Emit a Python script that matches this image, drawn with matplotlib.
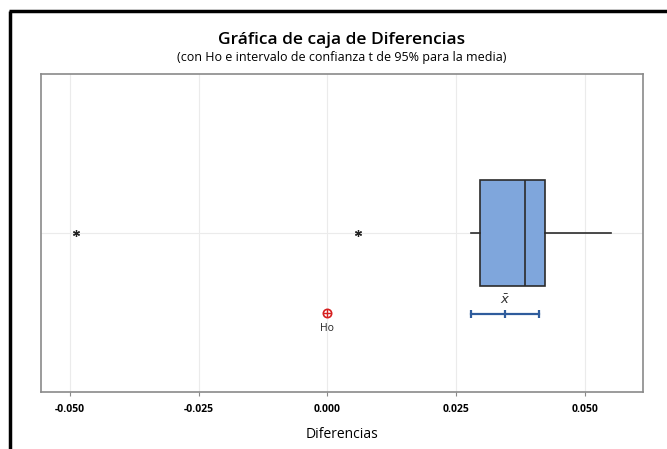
import matplotlib
matplotlib.use("Agg")
import matplotlib.pyplot as plt
from matplotlib.lines import Line2D

# valores
caja = {"whislo": 0.0279, "q1": 0.0297, "med": 0.0383, "q3": 0.0422, "whishi": 0.0550}
atipicos = [-0.0489, 0.0060]
media = 0.0346
ic_media = [0.0279, 0.0412]
ho = 0.0
ticks = [-0.050, -0.025, 0.000, 0.025, 0.050]
tick_labels = ["-0.050", "-0.025", "0.000", "0.025", "0.050"]

plt.rcParams['font.family'] = ['Open Sans', 'DejaVu Sans']

fig = plt.figure(figsize=(6.67, 4.49), dpi=100)
ax = fig.add_axes([0.0615, 0.127, 0.9025, 0.708])

stats = [dict(caja, fliers=atipicos, label="")]
ax.bxp(stats, positions=[0.5], widths=0.335, orientation="horizontal",
       patch_artist=True, showcaps=False,
       boxprops=dict(facecolor="#7FA6DC", edgecolor="#2b2b2b", linewidth=1.2),
       medianprops=dict(color="#2b2b2b", linewidth=1.2),
       whiskerprops=dict(color="#2b2b2b", linewidth=1.2),
       flierprops=dict(marker=(6, 2, 0), markersize=5, markeredgecolor="#222222",
                       markeredgewidth=0.9, linestyle="none"))

# intervalo de confianza de la media
y_ic = 0.244
ax.plot(ic_media, [y_ic, y_ic], color="#2F5C9C", linewidth=1.6)
ax.plot(ic_media + [media], [y_ic] * 3, linestyle="none", marker="|",
        markersize=6, markeredgewidth=1.6, color="#2F5C9C")
ax.text(media, y_ic + 0.024, r"$\bar{x}$", ha="center", va="bottom",
        fontsize=9.5, color="#333333")

# Ho
y_ho = 0.248
ax.plot([ho], [y_ho], marker="o", markersize=6, markerfacecolor="none",
        markeredgecolor="#D62020", markeredgewidth=1.2, linestyle="none")
ax.plot([ho], [y_ho], marker="+", markersize=6, markeredgecolor="#D62020",
        markeredgewidth=1.0, linestyle="none")
ax.text(ho, y_ho - 0.03, "Ho", ha="center", va="top", fontsize=7.5, color="#222222")

ax.set_xlim(-0.0556, 0.0613)
ax.set_ylim(0, 1)
ax.set_xticks(ticks)
ax.set_xticklabels(tick_labels, fontsize=7.5, fontweight="bold")
ax.set_yticks([])
for x in ticks:
    ax.axvline(x, color="#EBEBEB", linewidth=0.8, zorder=0)
ax.axhline(0.5, color="#EBEBEB", linewidth=0.8, zorder=0)
for s in ax.spines.values():
    s.set_color("#8A8A8A")
    s.set_linewidth(1.2)
ax.tick_params(axis="x", length=3, color="#8A8A8A", pad=6)
ax.set_xlabel("Diferencias", fontsize=10, labelpad=8)

cx = 0.0615 + 0.9025 / 2
fig.text(cx, 0.912, "Gráfica de caja de Diferencias", ha="center", va="center",
         fontsize=12.5, fontweight="semibold")
fig.text(cx, 0.872, "(con Ho e intervalo de confianza t de 95% para la media)",
         ha="center", va="center", fontsize=9)

# marco exterior
fig.add_artist(Line2D([0.015, 0.015], [0, 0.975], transform=fig.transFigure,
                      color="black", linewidth=2.5, solid_capstyle="butt"))
fig.add_artist(Line2D([0.0132, 1.0], [0.975, 0.975], transform=fig.transFigure,
                      color="black", linewidth=2.5, solid_capstyle="butt"))

fig.savefig("out.png", dpi=100)
